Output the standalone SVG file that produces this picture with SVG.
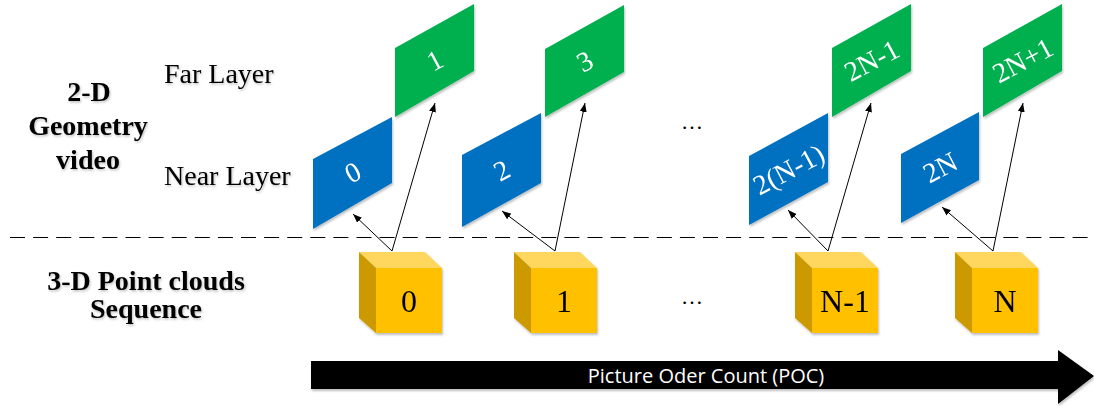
<svg xmlns="http://www.w3.org/2000/svg" width="1094" height="406" viewBox="0 0 1094 406">
  <defs>
    <marker id="tip" viewBox="0 0 9 7" refX="9" refY="3.5" markerWidth="9" markerHeight="7" markerUnits="userSpaceOnUse" orient="auto">
      <path d="M0,0 L9,3.5 L0,7 z" fill="#000"/>
    </marker>
    <filter id="soft" x="-10%" y="-10%" width="125%" height="130%">
      <feDropShadow dx="1" dy="2" stdDeviation="1.2" flood-color="#000" flood-opacity="0.25"/>
    </filter>
    <filter id="txtshadow" x="-5%" y="-10%" width="115%" height="130%">
      <feDropShadow dx="1" dy="1.5" stdDeviation="1" flood-color="#000" flood-opacity="0.25"/>
    </filter>
  </defs>
  <style>
    .near { fill: #0070C0; }
    .far { fill: #00B050; }
    .frame { font-family: "Liberation Serif", "Times New Roman", serif; font-size: 28px; fill: #fff; text-anchor: middle; }
    .label { font-family: "Liberation Serif", "Times New Roman", serif; font-size: 28px; fill: #000; }
    .title { font-family: "Liberation Serif", "Times New Roman", serif; font-size: 28px; font-weight: bold; fill: #000; text-anchor: middle; }
    .cube-front { fill: #FFC000; }
    .cube-top { fill: #FFD75E; }
    .cube-side { fill: #CC9A00; }
    .cube-num { font-family: "Liberation Serif", "Times New Roman", serif; font-size: 32px; fill: #000; text-anchor: middle; }
    .link { stroke: #000; stroke-width: 1; fill: none; marker-end: url(#tip); }
    .dots { font-family: "Liberation Serif", "Times New Roman", serif; font-size: 22px; fill: #000; text-anchor: middle; }
  </style>

  <rect width="1094" height="406" fill="#fff"/>

  <!-- row labels -->
  <g id="labels" filter="url(#txtshadow)">
    <text class="title" x="89" y="101">2-D</text>
    <text class="title" x="88" y="135">Geometry</text>
    <text class="title" x="88" y="169">video</text>
    <text class="label" x="164" y="83">Far Layer</text>
    <text class="label" x="164" y="185">Near Layer</text>
    <text class="title" x="146" y="290">3-D Point clouds</text>
    <text class="title" x="146" y="318">Sequence</text>
  </g>

  <!-- divider between 2-D and 3-D rows -->
  <line x1="10" y1="237.5" x2="1094" y2="237.5" stroke="#000" stroke-width="1.2" stroke-dasharray="15 8.1"/>

  <!-- ellipses -->
  <text class="dots" x="692" y="129">…</text>
  <text class="dots" x="692" y="304">…</text>

  <!-- near layer frames -->
  <g id="frame-0" filter="url(#soft)">
    <polygon class="near" points="313,159 392,117 392,183 313,229"/>
    <text class="frame" transform="translate(352.5,172) rotate(-28)" dy="10">0</text>
  </g>
  <g id="frame-2" filter="url(#soft)">
    <polygon class="near" points="462,155 541,113 541,183 462,227"/>
    <text class="frame" transform="translate(501.5,170) rotate(-28)" dy="10">2</text>
  </g>
  <g id="frame-2n-2" filter="url(#soft)">
    <polygon class="near" points="749,156 828,113 828,182 749,225"/>
    <text class="frame" transform="translate(788.5,169) rotate(-28)" dy="10">2(N-1)</text>
  </g>
  <g id="frame-2n" filter="url(#soft)">
    <polygon class="near" points="901,154 979,112 979,180 901,223"/>
    <text class="frame" transform="translate(940,167) rotate(-28)" dy="10">2N</text>
  </g>

  <!-- far layer frames -->
  <g id="frame-1" filter="url(#soft)">
    <polygon class="far" points="395,48 474,4 474,71 395,117"/>
    <text class="frame" transform="translate(434.5,60) rotate(-28)" dy="10">1</text>
  </g>
  <g id="frame-3" filter="url(#soft)">
    <polygon class="far" points="545,49 624,5 624,72 545,117"/>
    <text class="frame" transform="translate(584.5,61) rotate(-28)" dy="10">3</text>
  </g>
  <g id="frame-2n-1" filter="url(#soft)">
    <polygon class="far" points="832,48 911,4 911,71 832,117"/>
    <text class="frame" transform="translate(871.5,60) rotate(-28)" dy="10">2N-1</text>
  </g>
  <g id="frame-2n+1" filter="url(#soft)">
    <polygon class="far" points="983,48 1062,4 1062,71 983,117"/>
    <text class="frame" transform="translate(1022.5,60) rotate(-28)" dy="10">2N+1</text>
  </g>

  <!-- point cloud cubes -->
  <g id="cloud-0" filter="url(#soft)">
    <polygon class="cube-top" points="359,252 425,252 442,268 376,268"/>
    <polygon class="cube-side" points="359,252 376,268 376,333 359,318"/>
    <rect class="cube-front" x="376" y="268" width="66" height="65"/>
    <text class="cube-num" x="409" y="312">0</text>
  </g>
  <g id="cloud-1" filter="url(#soft)">
    <polygon class="cube-top" points="514,252 580,252 597,268 531,268"/>
    <polygon class="cube-side" points="514,252 531,268 531,333 514,318"/>
    <rect class="cube-front" x="531" y="268" width="66" height="65"/>
    <text class="cube-num" x="564" y="312">1</text>
  </g>
  <g id="cloud-n-1" filter="url(#soft)">
    <polygon class="cube-top" points="795,252 861,252 878,268 812,268"/>
    <polygon class="cube-side" points="795,252 812,268 812,333 795,318"/>
    <rect class="cube-front" x="812" y="268" width="66" height="65"/>
    <text class="cube-num" x="845" y="312">N-1</text>
  </g>
  <g id="cloud-n" filter="url(#soft)">
    <polygon class="cube-top" points="955,252 1021,252 1038,268 972,268"/>
    <polygon class="cube-side" points="955,252 972,268 972,333 955,318"/>
    <rect class="cube-front" x="972" y="268" width="66" height="65"/>
    <text class="cube-num" x="1005" y="312">N</text>
  </g>

  <!-- projections from each cloud to its two layers -->
  <g id="connectors">
    <line class="link" x1="392" y1="251" x2="353" y2="214"/>
    <line class="link" x1="392" y1="251" x2="435" y2="103"/>
    <line class="link" x1="555" y1="251" x2="502" y2="211"/>
    <line class="link" x1="555" y1="251" x2="585" y2="103"/>
    <line class="link" x1="828" y1="251" x2="788" y2="210"/>
    <line class="link" x1="828" y1="251" x2="871" y2="103"/>
    <line class="link" x1="993" y1="251" x2="942" y2="207"/>
    <line class="link" x1="993" y1="251" x2="1023" y2="103"/>
  </g>

  <!-- picture order count axis -->
  <g id="poc-axis">
    <polygon points="311,361 1058,361 1058,350 1094,376 1058,404 1058,389 311,389" fill="#000" filter="url(#soft)"/>
    <text x="706" y="383" font-family="'Open Sans', 'Liberation Sans', sans-serif" font-size="20" fill="#fff" text-anchor="middle">Picture Oder Count (POC)</text>
  </g>
</svg>
